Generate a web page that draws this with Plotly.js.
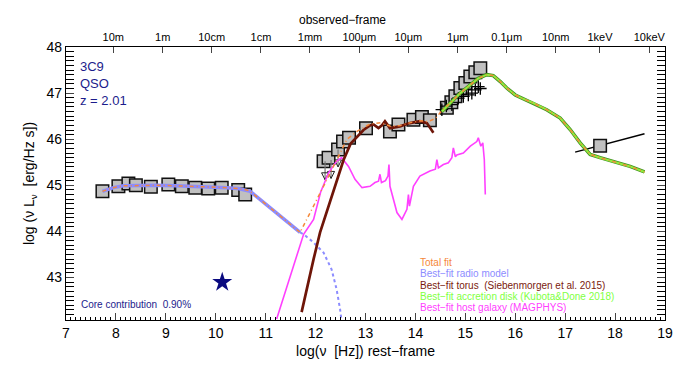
<!DOCTYPE html>
<html><head><meta charset="utf-8">
<script src="https://cdn.plot.ly/plotly-3.0.1.min.js"></script>
<style>body{margin:0;background:#fff}#c{width:688px;height:380px}</style>
</head><body><div id="c"></div>
<script>
// ---- data (log nu rest-frame, log nuLnu) ----
const radioObsX = [7.73, 8.05, 8.25, 8.40, 8.70, 9.05, 9.32, 9.59, 9.85, 10.12, 10.45, 10.59];
const radioObsY = [44.87, 44.98, 45.04, 45.00, 44.97, 45.02, 44.98, 44.95, 44.93, 44.95, 44.90, 44.80];
const irObsX = [12.16, 12.26, 12.45, 12.55, 12.67, 13.01, 13.49, 13.66, 13.96, 14.13, 14.29, 14.63, 14.72, 14.80, 14.90, 15.00, 15.10, 15.20, 15.30];
const irObsY = [45.52, 45.60, 45.78, 45.95, 46.03, 46.24, 46.17, 46.32, 46.42, 46.48, 46.41, 46.68, 46.80, 46.93, 47.11, 47.22, 47.36, 47.45, 47.54];
const crossX = [14.53, 14.62, 14.73, 14.86, 14.96, 15.06, 15.13, 15.20, 15.26, 15.30];
const crossY = [46.64, 46.72, 46.75, 46.89, 46.93, 46.96, 47.00, 47.07, 47.14, 47.10];
const xrayX = [17.70];
const xrayY = [45.86];
const xraySlopeX = [17.20, 18.59];
const xraySlopeY = [45.72, 46.12];
const ulX = [12.19, 12.31, 12.45];
const ulTop = [45.52, 45.55, 45.78];
const ulBot = [45.12, 45.15, 45.40];
const starX = [10.13];
const starY = [42.90];

const radioX = [7.73, 7.95, 8.15, 8.42, 8.8, 9.2, 9.54, 9.9, 10.22, 10.45, 10.62, 10.69, 11.69];
const radioY = [44.87, 44.95, 44.99, 45.00, 45.00, 44.99, 44.98, 44.96, 44.95, 44.93, 44.90, 44.87, 43.98];
const radioDotX = [11.69, 11.76, 11.96, 12.16, 12.32, 12.42, 12.49, 12.52, 12.55];
const radioDotY = [43.98, 43.94, 43.76, 43.54, 43.18, 42.75, 42.32, 42.10, 41.80];

const torusX = [11.72, 11.82, 11.96, 12.09, 12.26, 12.42, 12.56, 12.70, 12.83, 12.96, 13.09, 13.16, 13.26, 13.33, 13.39, 13.49, 13.69, 13.89, 14.09, 14.23, 14.36];
const torusY = [42.25, 42.75, 43.40, 43.98, 44.55, 45.13, 45.55, 45.90, 46.06, 46.20, 46.30, 46.32, 46.24, 46.30, 46.39, 46.24, 46.28, 46.35, 46.39, 46.35, 46.14];

const diskX = [14.53, 14.69, 14.90, 15.10, 15.26, 15.43, 15.56, 15.70, 15.83, 16.00, 16.13, 16.37, 16.63, 16.90, 17.10, 17.30, 17.50, 17.70, 17.97, 18.30, 18.59];
const diskY = [46.60, 46.78, 47.00, 47.18, 47.32, 47.40, 47.38, 47.25, 47.11, 46.96, 46.89, 46.78, 46.64, 46.46, 46.21, 45.92, 45.67, 45.60, 45.52, 45.41, 45.29];

const totalX = [7.73, 7.95, 8.15, 8.42, 8.8, 9.2, 9.54, 9.9, 10.22, 10.45, 10.62, 10.69, 11.69, 12.16, 12.42, 12.63, 12.83, 13.09, 13.30, 13.50, 13.70, 13.90, 14.10, 14.25, 14.40, 14.53, 14.69, 14.90, 15.10, 15.26, 15.43, 15.56, 15.70, 15.83, 16.00, 16.13, 16.37, 16.63, 16.90, 17.10, 17.30, 17.50, 17.70, 17.97, 18.30, 18.59];
const totalY = [44.87, 44.95, 44.99, 45.00, 45.00, 44.99, 44.98, 44.96, 44.95, 44.93, 44.90, 44.87, 43.98, 44.98, 45.56, 46.00, 46.17, 46.33, 46.36, 46.28, 46.30, 46.36, 46.40, 46.38, 46.45, 46.62, 46.78, 47.00, 47.18, 47.32, 47.40, 47.38, 47.25, 47.11, 46.96, 46.89, 46.78, 46.64, 46.46, 46.21, 45.92, 45.67, 45.60, 45.52, 45.41, 45.29];

const hostX = [11.22, 11.49, 11.76, 11.96, 12.10, 12.26, 12.42, 12.52, 12.66, 12.79, 12.93, 13.09, 13.19, 13.26, 13.29, 13.32, 13.40, 13.45, 13.47, 13.49, 13.56, 13.63, 13.73, 13.83, 13.86, 13.88, 13.96, 14.09, 14.29, 14.40, 14.43, 14.46, 14.56, 14.66, 14.73, 14.76, 14.80, 14.83, 14.96, 15.10, 15.23, 15.26, 15.31, 15.35, 15.38, 15.40];
const hostY = [42.10, 43.04, 43.94, 44.26, 44.85, 45.27, 45.52, 45.60, 45.41, 45.13, 44.95, 44.98, 45.06, 45.09, 45.24, 45.06, 45.10, 45.20, 45.45, 44.98, 44.70, 44.41, 44.26, 44.48, 44.80, 44.55, 44.98, 45.20, 45.31, 45.35, 45.56, 45.38, 45.45, 45.49, 45.60, 45.81, 45.62, 45.66, 45.70, 45.85, 45.95, 46.03, 45.85, 45.92, 45.56, 44.80];

const topTickLabels = ['10m', '1m', '10cm', '1cm', '1mm', '100\u03bcm', '10\u03bcm', '1\u03bcm', '0.1\u03bcm', '10nm', '1keV', '10keV'];
const topTickPos = [7.948, 8.937, 9.919, 10.906, 11.888, 12.876, 13.857, 14.847, 15.828, 16.810, 17.697, 18.685];

const legendLabels = ['Total fit', 'Best\u2212fit radio model', 'Best\u2212fit torus  (Siebenmorgen et al. 2015)', 'Best\u2212fit accretion disk (Kubota&Done 2018)', 'Best\u2212fit host galaxy (MAGPHYS)'];
const legendColors = ['#f5883a', '#8c8cff', '#7a1a0e', '#7fff3f', '#ff40ff'];

// ---- traces ----
const sq = (x, y) => ({x, y, mode: 'markers', type: 'scatter', xaxis: 'x', yaxis: 'y',
  marker: {symbol: 'square', size: 12.5, color: '#c0c0c0', line: {color: '#111', width: 1.5}},
  error_y: {type: 'constant', value: 0.08, color: '#888', thickness: 1, width: 0}, hoverinfo: 'skip'});

const stemX = [], stemY = [];
ulX.forEach((x, i) => { stemX.push(x, x, null); stemY.push(ulTop[i], ulBot[i], null); });

const traces = [
  sq(radioObsX, radioObsY),
  sq(irObsX, irObsY),
  {x: stemX, y: stemY, mode: 'lines', line: {color: '#777', width: 1.2}},
  {x: ulX, y: ulBot, mode: 'markers', marker: {symbol: 'arrow-down-open', size: 7, color: '#222', line: {color: '#222', width: 1}}},
  {x: xraySlopeX, y: xraySlopeY, mode: 'lines', line: {color: '#000', width: 1.5}},
  sq(xrayX, xrayY),
  {x: crossX, y: crossY, mode: 'markers', marker: {symbol: 'cross-thin', size: 9, line: {color: '#000', width: 1.3}}},
  {x: hostX, y: hostY, mode: 'lines', line: {color: '#ff40ff', width: 1.6}},
  {x: radioDotX, y: radioDotY, mode: 'lines', line: {color: '#8c8cff', width: 2, dash: 'dot'}},
  {x: radioX, y: radioY, mode: 'lines', line: {color: '#8c8cff', width: 3.5}},
  {x: torusX, y: torusY, mode: 'lines', line: {color: '#6e1508', width: 2.7}},
  {x: diskX, y: diskY, mode: 'lines', line: {color: '#3f8f1f', width: 3.5}},
  {x: diskX, y: diskY, mode: 'lines', line: {color: '#8fee3f', width: 2}},
  {x: totalX, y: totalY, mode: 'lines', line: {color: '#f5883a', width: 1.5, dash: '4px,3px,1px,3px'}},
  {x: starX, y: starY, mode: 'markers', marker: {symbol: 'star', size: 15, color: '#0a0a80'}},
  {x: [7, 19], y: [41, 41], mode: 'markers', xaxis: 'x2', yaxis: 'y', marker: {opacity: 0}, hoverinfo: 'skip'}
];

const annotations = [];
const navy = '#1c1c8c';
annotations.push({xref: 'paper', yref: 'paper', x: 0.02, y: 0.965, xanchor: 'left', yanchor: 'top', showarrow: false, align: 'left',
  text: '3C9<br>QSO<br>z = 2.01', font: {family: 'Liberation Sans, Arial', size: 13, color: navy}});
annotations.push({xref: 'paper', yref: 'paper', x: 0.022, y: 0.055, xanchor: 'left', yanchor: 'middle', showarrow: false,
  text: 'Core contribution  0.90%', font: {family: 'Liberation Sans, Arial', size: 10, color: navy}});
for (let i = 0; i < legendLabels.length; i++) {
  annotations.push({xref: 'paper', yref: 'paper', x: 0.589, y: 0.21 - i * 0.041, xanchor: 'left', yanchor: 'middle', showarrow: false,
    borderpad: 0,
    text: legendLabels[i], font: {family: 'Liberation Sans, Arial', size: 10, color: legendColors[i]}});
}
annotations.push({xref: 'paper', yref: 'paper', x: 0.462, y: 1.099, xanchor: 'center', yanchor: 'middle', showarrow: false,
  text: 'observed\u2212frame', font: {family: 'Liberation Sans, Arial', size: 12, color: '#000'}});

const layout = {
  width: 688, height: 380,
  margin: {l: 66, r: 23, t: 47, b: 60},
  paper_bgcolor: '#fff', plot_bgcolor: '#fff',
  showlegend: false,
  font: {family: 'Liberation Sans, Arial', color: '#000'},
  xaxis: {range: [7, 19], tickvals: [7,8,9,10,11,12,13,14,15,16,17,18,19], ticks: 'inside', ticklen: 7, tickwidth: 1,
    showgrid: false, zeroline: false, showline: true, linecolor: '#000', linewidth: 1.2, mirror: false,
    tickfont: {size: 14}, minor: {dtick: 0.1, tick0: 0, ticks: 'inside', ticklen: 3.5, tickcolor: '#000'},
    title: {text: 'log(\u03bd  [Hz]) rest\u2212frame', font: {size: 14}, standoff: 6}},
  xaxis2: {overlaying: 'x', side: 'top', range: [7, 19], tickvals: topTickPos, ticktext: topTickLabels,
    ticks: 'inside', ticklen: 6, tickwidth: 1, showgrid: false, zeroline: false, showline: true, linecolor: '#000', linewidth: 1.2,
    tickfont: {size: 11}},
  yaxis: {range: [42.08, 48], tickvals: [43,44,45,46,47,48], ticks: 'inside', ticklen: 8, tickwidth: 1,
    showgrid: false, zeroline: false, showline: true, linecolor: '#000', linewidth: 1.2, mirror: 'allticks',
    tickfont: {size: 14}, minor: {dtick: 0.1, tick0: 0, ticks: 'inside', ticklen: 4, tickcolor: '#000'},
    title: {text: 'log (\u03bd L<sub>\u03bd</sub>  [erg/Hz s])', font: {size: 14}, standoff: 8}},
  annotations
};
traces.forEach(t => { if (!t.type) t.type = 'scatter'; if (t.hoverinfo === undefined) t.hoverinfo = 'skip'; if (!t.xaxis) t.xaxis = 'x'; });
Plotly.newPlot('c', traces, layout, {displayModeBar: false, staticPlot: true});
</script>
</body></html>
